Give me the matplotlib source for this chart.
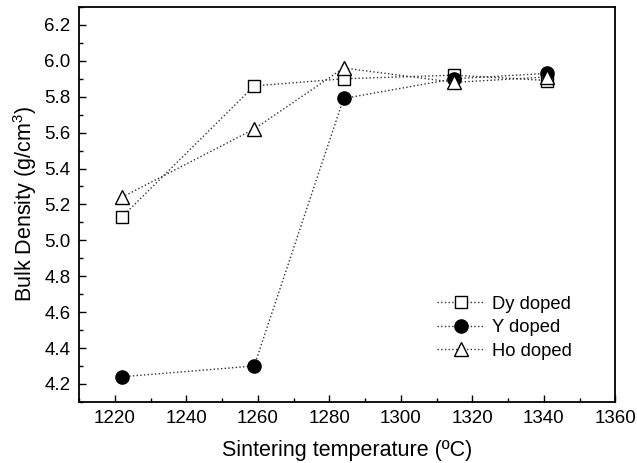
#!/usr/bin/env python3
"""Bulk density vs sintering temperature for Dy, Y and Ho doped samples."""

import matplotlib
matplotlib.use('Agg')
import matplotlib.pyplot as plt
from matplotlib.ticker import MultipleLocator, FormatStrFormatter

plt.rcParams['font.family'] = ['Liberation Sans', 'DejaVu Sans']
plt.rcParams['mathtext.fontset'] = 'custom'
plt.rcParams['mathtext.rm'] = 'Liberation Sans'
plt.rcParams['mathtext.it'] = 'Liberation Sans'

# Data
temp_dy = [1222, 1259, 1284, 1315, 1341]
dens_dy = [5.13, 5.86, 5.90, 5.92, 5.89]

temp_y = [1222, 1259, 1284, 1315, 1341]
dens_y = [4.24, 4.30, 5.79, 5.90, 5.93]

temp_ho = [1222, 1259, 1284, 1315, 1341]
dens_ho = [5.24, 5.62, 5.96, 5.88, 5.91]

labels = ['Dy doped', 'Y doped', 'Ho doped']


def main():
    fig = plt.figure(figsize=(6.37, 4.63), dpi=100)
    ax = fig.add_axes([0.124, 0.132, 0.842, 0.853])

    line_kw = dict(color='#333333', linestyle=':', linewidth=1.0,
                   markeredgecolor='black', markeredgewidth=1.0)
    ax.plot(temp_dy, dens_dy, marker='s', markersize=8.5,
            markerfacecolor='white', label=labels[0], **line_kw)
    ax.plot(temp_y, dens_y, marker='o', markersize=9.5,
            markerfacecolor='black', label=labels[1], **line_kw)
    ax.plot(temp_ho, dens_ho, marker='^', markersize=10,
            markerfacecolor='white', label=labels[2], **line_kw)

    ax.set_xlim(1210, 1360)
    ax.set_ylim(4.1, 6.3)
    ax.xaxis.set_major_locator(MultipleLocator(20))
    ax.xaxis.set_minor_locator(MultipleLocator(10))
    ax.yaxis.set_major_locator(MultipleLocator(0.2))
    ax.yaxis.set_minor_locator(MultipleLocator(0.1))
    ax.yaxis.set_major_formatter(FormatStrFormatter('%.1f'))

    ax.tick_params(which='both', direction='in', labelsize=13.5, colors='black')
    ax.tick_params(which='major', length=5, width=1.0, pad=6)
    ax.tick_params(which='minor', length=3, width=1.0)
    for s in ax.spines.values():
        s.set_linewidth(1.3)

    ax.set_xlabel('Sintering temperature (ºC)', fontsize=15.5, labelpad=9)
    ax.set_ylabel('Bulk Density (g/cm$^3$)', fontsize=15.5, labelpad=4)

    ax.legend(loc='lower right', bbox_to_anchor=(0.95, 0.065), frameon=False,
              fontsize=13.2, handlelength=2.6, handletextpad=0.4,
              labelspacing=0.36)

    fig.savefig('out.png', dpi=100)


if __name__ == '__main__':
    main()
